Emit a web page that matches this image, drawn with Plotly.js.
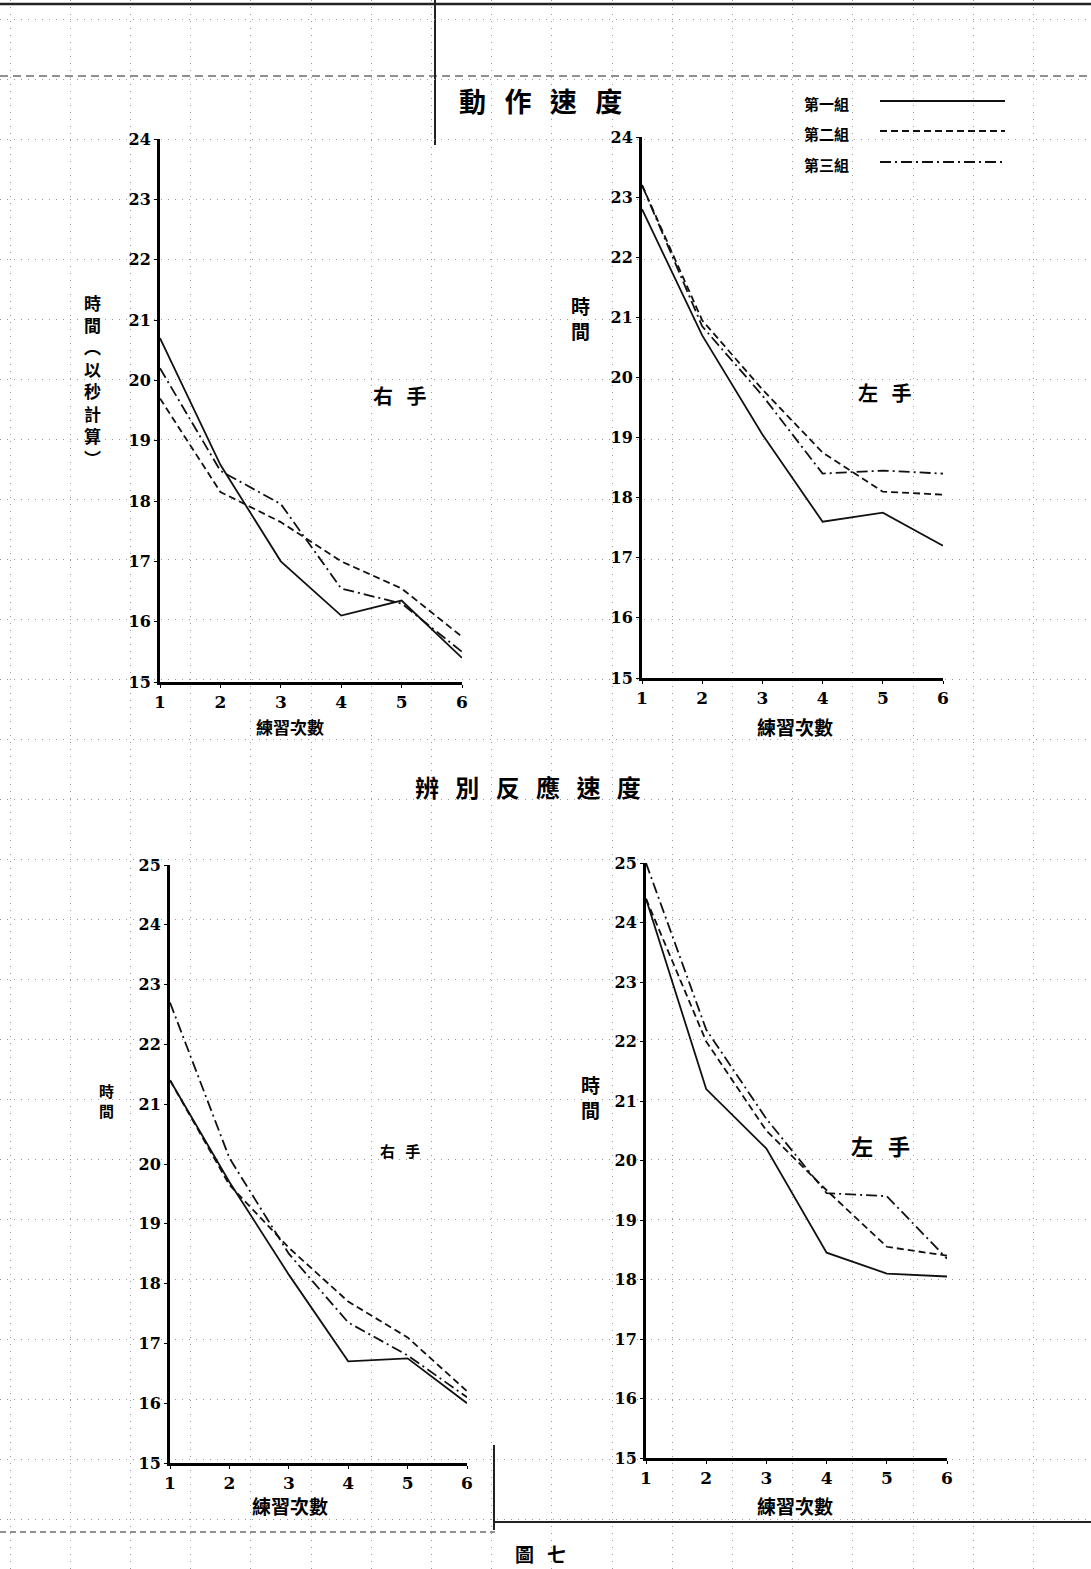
<!DOCTYPE html>
<html>
<head>
<meta charset="utf-8">
<script src="https://cdn.plot.ly/plotly-3.0.1.min.js"></script>
<style>html,body{margin:0;padding:0;background:#fff;}#chart{width:1091px;height:1569px;}</style>
</head>
<body>
<div id="chart"></div>
<script>
// ---- data ----
const trials = [1, 2, 3, 4, 5, 6];
const xTickText = ['1', '2', '3', '4', '5', '6'];
const groupNames = ['第一組', '第二組', '第三組'];

// 動作速度 右手
const motionRight_g1 = [20.7, 18.6, 17.0, 16.1, 16.35, 15.4];
const motionRight_g2 = [19.7, 18.15, 17.65, 17.0, 16.55, 15.75];
const motionRight_g3 = [20.2, 18.5, 17.95, 16.55, 16.3, 15.5];
// 動作速度 左手
const motionLeft_g1 = [22.8, 20.7, 19.05, 17.6, 17.75, 17.2];
const motionLeft_g2 = [23.2, 20.95, 19.8, 18.75, 18.1, 18.05];
const motionLeft_g3 = [23.2, 20.85, 19.7, 18.4, 18.45, 18.4];
// 辨別反應速度 右手
const discrimRight_g1 = [21.4, 19.7, 18.15, 16.7, 16.75, 16.0];
const discrimRight_g2 = [21.4, 19.65, 18.6, 17.7, 17.1, 16.2];
const discrimRight_g3 = [22.7, 20.1, 18.5, 17.35, 16.8, 16.1];
// 辨別反應速度 左手
const discrimLeft_g1 = [24.4, 21.2, 20.2, 18.45, 18.1, 18.05];
const discrimLeft_g2 = [24.4, 22.0, 20.5, 19.5, 18.55, 18.4];
const discrimLeft_g3 = [25.0, 22.2, 20.7, 19.45, 19.4, 18.35];

const yTicksTop = [15, 16, 17, 18, 19, 20, 21, 22, 23, 24];
const yTicksBottom = [15, 16, 17, 18, 19, 20, 21, 22, 23, 24, 25];

// ---- styles ----
const W = 1091, H = 1569;
const dashes = ['solid', '7px,4px', '11px,4px,2px,4px'];
const CJK = '"Noto Sans CJK TC", "Noto Sans CJK SC", sans-serif';
const NUM = '"DejaVu Serif", "Liberation Serif", serif';

function px(a, b) { return [a / W, b / W]; }
function py(top, bottom) { return [1 - bottom / H, 1 - top / H]; }

const panels = [
  { ax: 2, data: [motionRight_g1, motionRight_g2, motionRight_g3], xd: px(160, 462), yd: py(139, 682), yr: [15, 24], yt: yTicksTop },
  { ax: 3, data: [motionLeft_g1, motionLeft_g2, motionLeft_g3], xd: px(642, 943), yd: py(137, 678), yr: [15, 24], yt: yTicksTop },
  { ax: 4, data: [discrimRight_g1, discrimRight_g2, discrimRight_g3], xd: px(170, 467), yd: py(865, 1463), yr: [15, 25], yt: yTicksBottom },
  { ax: 5, data: [discrimLeft_g1, discrimLeft_g2, discrimLeft_g3], xd: px(646, 947), yd: py(863, 1458), yr: [15, 25], yt: yTicksBottom }
];

const traces = [];
// invisible trace to hold the background grid subplot
traces.push({ x: [0], y: [0], xaxis: 'x', yaxis: 'y', mode: 'markers', marker: { opacity: 0 }, hoverinfo: 'skip', showlegend: false });

const layout = {
  width: W, height: H,
  margin: { l: 0, r: 0, t: 0, b: 0 },
  paper_bgcolor: '#ffffff',
  plot_bgcolor: 'rgba(0,0,0,0)',
  showlegend: false,
  xaxis: { domain: [0, 1], range: [0, W], showgrid: true, gridcolor: '#9a9a9a', griddash: '1px,6px', gridwidth: 1,
           tick0: 10, dtick: 60.2, showticklabels: false, zeroline: false, showline: false, ticks: '', fixedrange: true },
  yaxis: { domain: [0, 1], range: [H, 0], showgrid: true, gridcolor: '#9a9a9a', griddash: '1px,6px', gridwidth: 1,
           tick0: 19, dtick: 60, showticklabels: false, zeroline: false, showline: false, ticks: '', fixedrange: true },
  annotations: [],
  shapes: []
};

panels.forEach(p => {
  const xa = 'x' + p.ax, ya = 'y' + p.ax;
  p.data.forEach((vals, i) => {
    traces.push({
      x: trials, y: vals, xaxis: xa, yaxis: ya, mode: 'lines', name: groupNames[i],
      line: { color: '#111', width: 1.8, dash: dashes[i] }, showlegend: false
    });
  });
  layout['xaxis' + p.ax] = {
    domain: p.xd, range: [1, 6], anchor: ya, tickvals: trials, ticktext: xTickText,
    showline: true, linecolor: '#000', linewidth: 3, showgrid: false, zeroline: false,
    ticks: 'outside', ticklen: 3, tickwidth: 1, tickcolor: '#000',
    tickfont: { family: NUM, size: 17, color: '#000', weight: 700 }
  };
  layout['yaxis' + p.ax] = {
    domain: p.yd, range: p.yr, anchor: xa, tickvals: p.yt,
    showline: true, linecolor: '#000', linewidth: 3, showgrid: false, zeroline: false,
    ticks: 'outside', ticklen: 3, tickwidth: 1, tickcolor: '#000',
    tickfont: { family: NUM, size: 16, color: '#000', weight: 700 }
  };
});

function note(text, x, y, size, extra) {
  layout.annotations.push(Object.assign({
    text: text, x: x, y: y, xref: 'x', yref: 'y', showarrow: false,
    font: { family: CJK, size: size, color: '#000', weight: 700 },
    xanchor: 'center', yanchor: 'middle'
  }, extra || {}));
}
const sp = '&nbsp;&nbsp;&nbsp;';
// titles
note(['動', '作', '速', '度'].join(sp), 540, 100, 27);
note(['辨', '別', '反', '應', '速', '度'].join(sp), 528, 786, 24);
note('圖' + sp + '七', 540, 1553, 19);
// y axis titles (vertical)
note(['時', '間', '︵', '以', '秒', '計', '算', '︶'].join('<br>'), 92, 380, 17, { align: 'center' });
note(['時', '間'].join('<br>'), 580, 318, 19, { align: 'center' });
note(['時', '間'].join('<br>'), 106, 1100, 15, { align: 'center' });
note(['時', '間'].join('<br>'), 590, 1097, 19, { align: 'center' });
// x axis titles
note('練習次數', 290, 726, 17);
note('練習次數', 795, 726, 19);
note('練習次數', 290, 1505, 19);
note('練習次數', 795, 1505, 19);
// hand labels
note('右' + sp + '手', 400, 395, 20);
note('左' + sp + '手', 885, 392, 20);
note('右' + sp + '手', 400, 1150, 15);
note('左' + sp + '手', 880, 1145, 22);
// legend
const legendY = [101, 131, 162];
groupNames.forEach((g, i) => {
  note(g, 826, legendY[i] + 2, 15);
  layout.shapes.push({ type: 'line', xref: 'x', yref: 'y', x0: 880, x1: 1005, y0: legendY[i], y1: legendY[i],
    line: { color: '#111', width: 1.8, dash: dashes[i] } });
});
// scanned paper frame lines
const frame = [
  { x0: 0, x1: W, y0: 4, y1: 4, w: 2.5, d: 'solid' },
  { x0: 0, x1: W, y0: 76, y1: 76, w: 1.2, d: '8px,5px' },
  { x0: 435, x1: 435, y0: 0, y1: 145, w: 2, d: 'solid' },
  { x0: 494, x1: 494, y0: 1445, y1: 1530, w: 2, d: 'solid' },
  { x0: 495, x1: W, y0: 1522, y1: 1522, w: 2, d: 'solid' },
  { x0: 0, x1: 495, y0: 1532, y1: 1532, w: 1, d: '6px,4px' }
];
frame.forEach(f => layout.shapes.push({ type: 'line', xref: 'x', yref: 'y', x0: f.x0, x1: f.x1, y0: f.y0, y1: f.y1,
  line: { color: '#222', width: f.w, dash: f.d }, layer: 'below' }));

Plotly.newPlot('chart', traces, layout, { staticPlot: true, displayModeBar: false });
</script>
</body>
</html>
